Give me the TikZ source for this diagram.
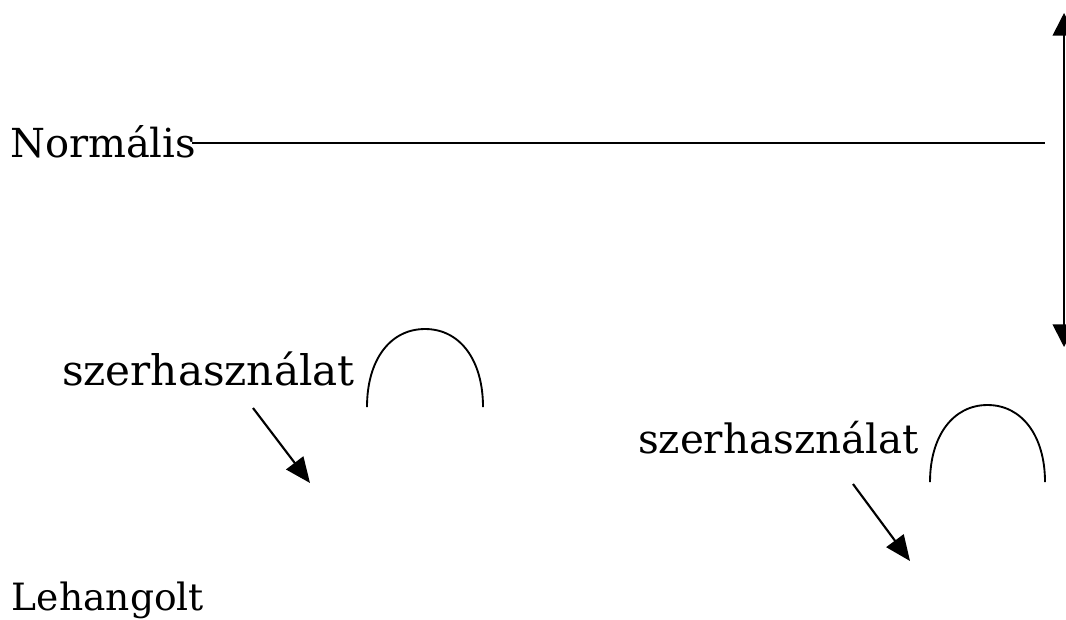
\documentclass[tikz,border=0pt]{standalone}
\usepackage{fontspec}
\setmainfont{DejaVu Serif}
\usetikzlibrary{arrows.meta}
\tikzset{
  lbl/.style={anchor=base west, inner sep=0pt, outer sep=0pt},
  big/.style={font=\fontsize{30}{34}\selectfont},
  mid/.style={font=\fontsize{31.6}{36}\selectfont},
  mid2/.style={font=\fontsize{30.3}{34}\selectfont},
  low/.style={font=\fontsize{28.2}{32}\selectfont},
  ln/.style={line width=1.4pt},
  arr/.style={line width=1.6pt, -{Triangle[length=19pt,width=16pt]}},
  varr/.style={line width=1.4pt, {Triangle[length=17pt,width=17pt]}-{Triangle[length=17pt,width=17pt]}},
}
\begin{document}
\begin{tikzpicture}[x=0.75pt,y=-0.75pt]
\useasboundingbox (0,0) rectangle (1066,619);
\node[lbl,big] (norm) at (10,157) {Normális};
\coordinate (lend) at (1045,143);
\path (norm.base east |- lend) ++(-4,0) coordinate (lstart);
\draw[ln] (lstart) -- (lend);
\coordinate (vtop) at (1064,13);
\coordinate (vbot) at (1064,347);
\draw[varr] (vtop) -- (vbot);
\node[lbl,mid] (sz1) at (62,385) {szerhasználat};
\node[lbl,mid2] (sz2) at (638,453) {szerhasználat};
\node[lbl,low] (leh) at (12,610) {Lehangolt};
% arches
\draw[ln] (367,407) .. controls (367,360) and (390,329) .. (425,329)
  .. controls (460,329) and (483,360) .. (483,407);
\draw[ln] (930,482) .. controls (930,436) and (953,405) .. (987.5,405)
  .. controls (1022,405) and (1045,436) .. (1045,482);
% arrows
\coordinate (a1s) at (253,408);
\coordinate (a1e) at (310,483);
\draw[arr] (a1s) -- (a1e);
\coordinate (a2s) at (853,484);
\coordinate (a2e) at (910,561);
\draw[arr] (a2s) -- (a2e);
\end{tikzpicture}
\end{document}
